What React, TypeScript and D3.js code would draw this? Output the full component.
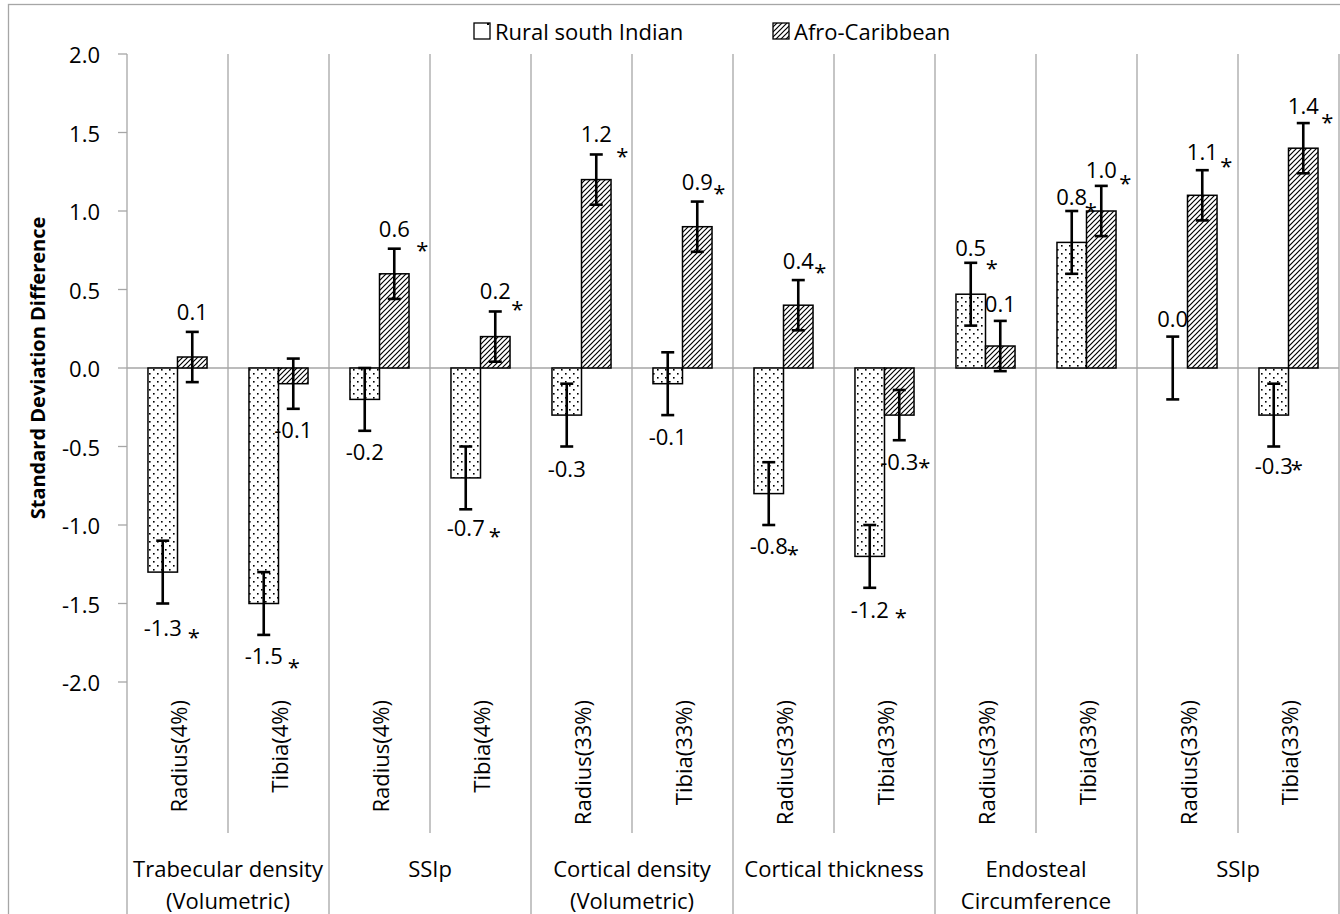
import React from "react";
import { scaleBand, scaleLinear } from "d3";

// sub-category (x axis tick) labels
const subCategories = [
  "Radius(4%)", "Tibia(4%)",
  "Radius(4%)", "Tibia(4%)",
  "Radius(33%)", "Tibia(33%)",
  "Radius(33%)", "Tibia(33%)",
  "Radius(33%)", "Tibia(33%)",
  "Radius(33%)", "Tibia(33%)"
];
// group labels, two sub-categories each
const groupLabels = [
  ["Trabecular density", "(Volumetric)"],
  ["SSIp"],
  ["Cortical density", "(Volumetric)"],
  ["Cortical thickness"],
  ["Endosteal", "Circumference"],
  ["SSIp"]
];

const seriesNames = ["Rural south Indian", "Afro-Caribbean"];
const ruralValues = [-1.3, -1.5, -0.2, -0.7, -0.3, -0.1, -0.8, -1.2, 0.47, 0.8, 0.0, -0.3];
const afroValues = [0.07, -0.1, 0.6, 0.2, 1.2, 0.9, 0.4, -0.3, 0.14, 1.0, 1.1, 1.4];
const ruralErrors = [0.2, 0.2, 0.2, 0.2, 0.2, 0.2, 0.2, 0.2, 0.2, 0.2, 0.2, 0.2];
const afroErrors = [0.16, 0.16, 0.16, 0.16, 0.16, 0.16, 0.16, 0.16, 0.16, 0.16, 0.16, 0.16];
const ruralSignificant = [true, true, false, true, false, false, true, true, true, true, false, true];
const afroSignificant = [false, false, true, true, true, true, true, true, false, true, true, true];
const yTicks = [-2, -1.5, -1, -0.5, 0, 0.5, 1, 1.5, 2];

// label placement tweaks (px), as they were dragged in the original
const ruralLabelGap = [23, 20, 20, 18, 21, 21, 20, 21, 16, 15, 19, 18];
const afroLabelGap = [21, 20, 21, 21, 21, 21, 20, 21, 18, 17, 19, 18];
const ruralStarOffset = [[31, 6], [30, 8], null, [29, 5], null, null, [24, 5], [31, 4], [21, 17], [19, 11], null, [23, 0]];
const afroStarOffset = [null, null, [28, 18], [22, 15], [26, 19], [22, 8], [22, 8], [25, 2], null, [24, 10], [24, 11], [24, 13]];

const W = 1340;
const H = 914;
const FONT = "'Open Sans', sans-serif";
const GRID = "#a6a6a6";

const App = () => {
  const x = scaleBand()
    .domain(subCategories.map((d, i) => String(i)))
    .range([127, 1339])
    .padding(0);

  const xSeries = scaleBand()
    .domain(["rural", "afro"])
    .range([0, x.bandwidth()])
    .paddingInner(0)
    .paddingOuter(0.71);

  const y = scaleLinear().domain([-2, 2]).range([682, 54]);

  const series = [
    { key: "rural", values: ruralValues, errors: ruralErrors, sig: ruralSignificant, gap: ruralLabelGap, star: ruralStarOffset, fill: "url(#dots)" },
    { key: "afro", values: afroValues, errors: afroErrors, sig: afroSignificant, gap: afroLabelGap, star: afroStarOffset, fill: "url(#hatch)" }
  ];

  const bw = xSeries.bandwidth();

  return (
    <svg
      width={W}
      height={H}
      viewBox={`0 0 ${W} ${H}`}
      style={{ position: "absolute", left: 0, top: 0, background: "#fff" }}
      fontFamily={FONT}
    >
      <defs>
        <pattern id="dots" patternUnits="userSpaceOnUse" width="8" height="8">
          <rect width="8" height="8" fill="#fff" />
          <rect x="1" y="1" width="1.6" height="1.6" fill="#000" />
          <rect x="5" y="5" width="1.6" height="1.6" fill="#000" />
        </pattern>
        <pattern id="hatch" patternUnits="userSpaceOnUse" width="5" height="5">
          <rect width="5" height="5" fill="#fff" />
          <path d="M-1,6 L6,-1 M-1,1 L1,-1 M4,6 L6,4" stroke="#000" strokeWidth="1.2" />
        </pattern>
        <pattern id="dotsLegend" patternUnits="userSpaceOnUse" width="16" height="16">
          <rect width="16" height="16" fill="#fff" />
          <rect x="7" y="7" width="2" height="2" fill="#000" />
        </pattern>
      </defs>

      {/* outer frame */}
      <rect x={8.5} y={4.5} width={W} height={H} fill="none" stroke={GRID} strokeWidth={1.3} />

      {/* legend */}
      <g fontSize={22} fill="#000">
        <rect x={474} y={23} width={16} height={16} fill="url(#dotsLegend)" stroke="#000" strokeWidth={1.3} />
        <text x={495} y={31} dominantBaseline="central">{seriesNames[0]}</text>
        <rect x={773} y={23} width={16} height={16} fill="url(#hatch)" stroke="#000" strokeWidth={1.3} />
        <text x={794} y={31} dominantBaseline="central">{seriesNames[1]}</text>
      </g>

      {/* y axis ticks and labels */}
      <g>
        {yTicks.map((t) => (
          <g key={t}>
            <line x1={118} x2={127} y1={y(t)} y2={y(t)} stroke={GRID} strokeWidth={1.3} />
            <text x={100} y={y(t)} textAnchor="end" dominantBaseline="central" fontSize={22}>
              {t.toFixed(1)}
            </text>
          </g>
        ))}
        <text
          transform={`translate(37,${y(0)}) rotate(-90)`}
          textAnchor="middle"
          dominantBaseline="central"
          fontSize={20}
          fontWeight="bold"
        >
          Standard Deviation Difference
        </text>
      </g>

      {/* vertical separators */}
      {subCategories.map((d, i) => {
        const xl = x(String(i));
        const isGroupEdge = i % 2 === 0;
        return (
          <line
            key={"sep" + i}
            x1={xl}
            x2={xl}
            y1={y(2)}
            y2={isGroupEdge ? H : 833}
            stroke={GRID}
            strokeWidth={1.3}
          />
        );
      })}
      <line x1={1339} x2={1339} y1={y(2)} y2={H} stroke={GRID} strokeWidth={1.3} />

      {/* zero line */}
      <line x1={127} x2={1339} y1={y(0)} y2={y(0)} stroke={GRID} strokeWidth={1.3} />

      {/* bars */}
      {series.map((s) =>
        s.values.map((v, i) => {
          const bx = x(String(i)) + xSeries(s.key);
          if (v === 0) return null;
          return (
            <rect
              key={s.key + i}
              x={bx}
              y={y(Math.max(0, v))}
              width={bw}
              height={Math.abs(y(v) - y(0))}
              fill={s.fill}
              stroke="#000"
              strokeWidth={1.5}
            />
          );
        })
      )}

      {/* error bars */}
      {series.map((s) =>
        s.values.map((v, i) => {
          const cx = x(String(i)) + xSeries(s.key) + bw / 2;
          const e = s.errors[i];
          return (
            <g key={"err" + s.key + i} stroke="#000" strokeWidth={2.6}>
              <line x1={cx} x2={cx} y1={y(v + e)} y2={y(v - e)} />
              <line x1={cx - 6.5} x2={cx + 6.5} y1={y(v + e)} y2={y(v + e)} />
              <line x1={cx - 6.5} x2={cx + 6.5} y1={y(v - e)} y2={y(v - e)} />
            </g>
          );
        })
      )}

      {/* value labels */}
      <g fontSize={22}>
        {series.map((s) =>
          s.values.map((v, i) => {
            const cx = x(String(i)) + xSeries(s.key) + bw / 2;
            const e = s.errors[i];
            const up = v >= 0;
            const ly = up ? y(v + e) - s.gap[i] : y(v - e) + s.gap[i];
            const st = s.star[i];
            return (
              <g key={"lab" + s.key + i}>
                <text x={cx} y={ly} textAnchor="middle" dominantBaseline="central">
                  {v.toFixed(1)}
                </text>
                {s.sig[i] && st && (
                  <text x={cx + st[0]} y={ly + st[1] + 12} textAnchor="middle">
                    *
                  </text>
                )}
              </g>
            );
          })
        )}
      </g>

      {/* sub-category labels (rotated) */}
      <g fontSize={22}>
        {subCategories.map((d, i) => {
          const cx = x(String(i)) + x.bandwidth() / 2;
          return (
            <text
              key={"sub" + i}
              transform={`translate(${cx},700) rotate(-90)`}
              textAnchor="end"
              dominantBaseline="central"
            >
              {d}
            </text>
          );
        })}
      </g>

      {/* group labels */}
      <g fontSize={22}>
        {groupLabels.map((lines, g) => {
          const cx = x(String(g * 2)) + x.bandwidth();
          return lines.map((ln, k) => (
            <text
              key={"grp" + g + k}
              x={cx}
              y={868 + k * 32}
              textAnchor="middle"
              dominantBaseline="central"
            >
              {ln}
            </text>
          ));
        })}
      </g>
    </svg>
  );
};

export default App;
